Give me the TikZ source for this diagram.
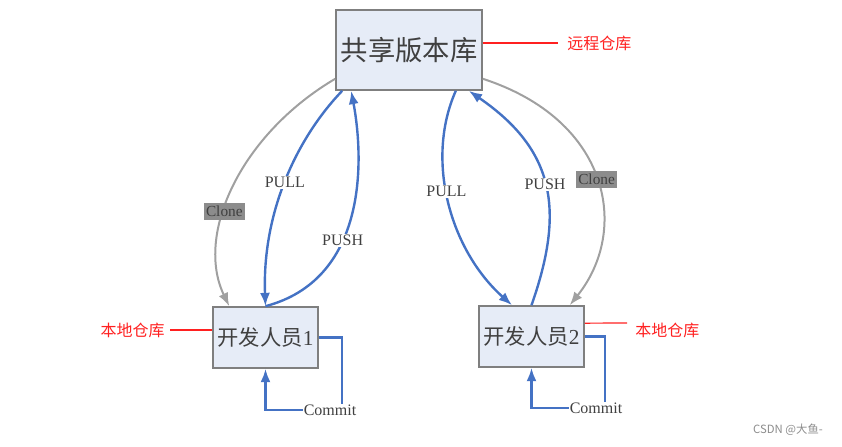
\documentclass[tikz,border=0pt]{standalone}
\usepackage{fontspec}
\setmainfont{Liberation Serif}
\newfontfamily\cjk{Noto Sans CJK SC}
\usetikzlibrary{arrows.meta}
\definecolor{lineblue}{HTML}{4472C4}
\definecolor{linegray}{HTML}{A0A0A0}
\definecolor{boxfill}{HTML}{E6ECF7}
\definecolor{boxline}{HTML}{7F7F7F}
\definecolor{clonefill}{HTML}{8C8C8C}
\definecolor{textgray}{HTML}{404040}
\definecolor{notered}{HTML}{FF2020}
\begin{document}
\begin{tikzpicture}[x=0.75pt,y=-0.75pt,
  repo/.style={rectangle,draw=boxline,line width=1.2pt,fill=boxfill,text=textgray},
  bluearc/.style={draw=lineblue,line width=1.8pt,-{Latex[length=10pt,width=7.5pt]}},
  grayarc/.style={draw=linegray,line width=1.5pt,-{Latex[length=10pt,width=7.5pt]}},
  arclabel/.style={fill=white,inner sep=1pt,text=textgray,font=\fontsize{12}{14}\selectfont},
  clonelabel/.style={fill=clonefill,inner xsep=1.5pt,inner ysep=2.2pt,text=textgray,font=\fontsize{11.5}{13}\selectfont},
  note/.style={inner sep=0pt,text=notered,font=\cjk\fontsize{12}{14}\selectfont},
  noteline/.style={draw=notered,line width=0.9pt}]
            \useasboundingbox (0,0) rectangle (842,446);
            % Remote repository
            \node[repo,minimum width=109.5pt,minimum height=60pt,font=\cjk\fontsize{20.5}{24}\selectfont] (R) at (409,50) {共享版本库};
            % Developers
            \node[repo,minimum width=75.75pt,minimum height=45.75pt,font=\fontsize{16}{19}\selectfont] (D1) at (265.5,337.5) {{\cjk 开发人员}1};
            \node[repo,minimum width=75.75pt,minimum height=45.75pt,font=\fontsize{16}{19}\selectfont] (D2) at (531.5,336.5) {{\cjk 开发人员}2};
            % Notes
            \node[note,anchor=west] (L0) at (567,43) {远程仓库};
            \node[note,anchor=east] (L1) at (165,330) {本地仓库};
            \node[note,anchor=west] (L2) at (635,330) {本地仓库};
            \draw[noteline] ([yshift=5.25pt]R.east) -- ([xshift=-6.75pt]L0.west);
            \draw[noteline] ([xshift=3.75pt]L1.east) -- (L1.east -| D1.west);
            \draw[noteline] ([yshift=10pt]D2.east) -- ([xshift=-6pt,yshift=5.25pt]L2.west);
            % Clone
            \draw[grayarc] ([yshift=9pt]R.south west) .. controls (240,135) and (195,235) .. ([xshift=12.75pt]D1.north west) node[clonelabel,pos=0.6] {Clone};
            \draw[grayarc] ([yshift=9pt]R.south east) .. controls (610,120) and (630,230) .. ([xshift=-11.25pt]D2.north east) node[clonelabel,pos=0.5] {Clone};
            % Pull and push
            \draw[bluearc] ([xshift=5.25pt]R.south west) .. controls (295,140) and (262,215) .. (D1.north) node[arclabel,pos=0.5] {PULL};
            \draw[bluearc] (D1.north) .. controls (365,280) and (365,165) .. ([xshift=12pt]R.south west) node[arclabel,pos=0.4] {PUSH};
            \draw[bluearc] ([xshift=-20.25pt]R.south east) .. controls (425,160) and (450,250) .. ([xshift=-14.6pt]D2.north) node[arclabel,pos=0.45] {PULL};
            \draw[bluearc] (D2.north) .. controls (565,210) and (555,150) .. ([xshift=-10.5pt]R.south east) node[arclabel,pos=0.5] {PUSH};
            % Commit
            \node[arclabel,inner sep=0.5pt] (C1) at (330,410) {Commit};
            \node[arclabel,inner sep=0.5pt] (C2) at (596,408) {Commit};
            \draw[draw=lineblue,line width=1.8pt] (D1.east) -| ([xshift=9pt]C1.north);
            \draw[bluearc] (C1.west) -| (D1.south);
            \draw[draw=lineblue,line width=1.8pt] (D2.east) -| ([xshift=6.75pt]C2.north);
            \draw[bluearc] (C2.west) -| (D2.south);
            % Watermark
            \node[font=\cjk\fontsize{8.5}{10}\selectfont,text=black!45] (W) at (788,430) {CSDN @大鱼-};
        \end{tikzpicture}
\end{document}
